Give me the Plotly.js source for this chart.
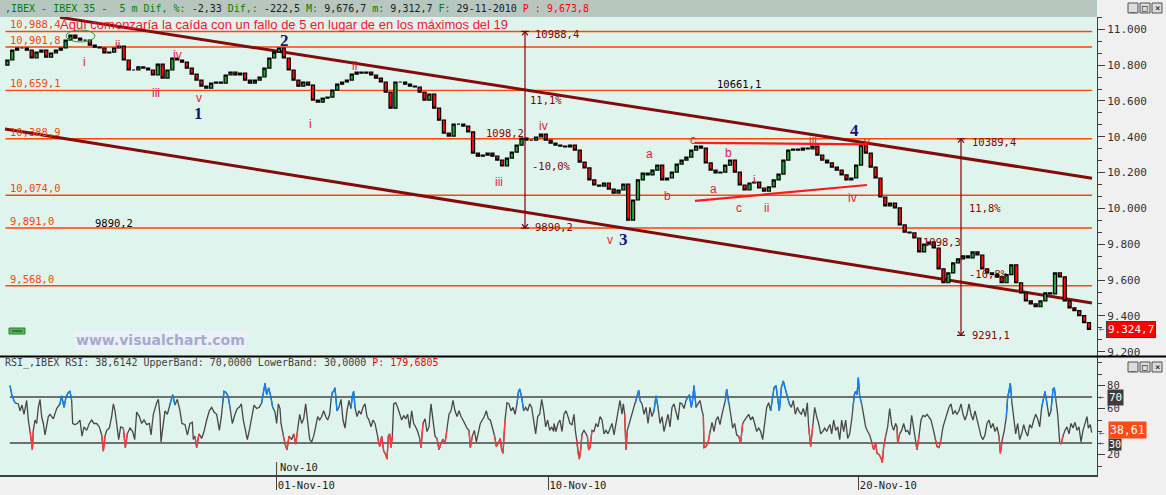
<!DOCTYPE html>
<html><head><meta charset="utf-8">
<script src="https://cdn.plot.ly/plotly-3.0.1.min.js"></script>
<style>html,body{margin:0;padding:0;background:#f0f0f0;overflow:hidden}#chart{width:1166px;height:495px}</style>
</head><body><div id="chart"></div>
<script>
// ================= DATA =================
// time unit: 116.4 units per trading session; 8 bars per session
const SESSION = 116.4;
const BARS_PER_SESSION = 8;
const firstOpen = 10800;
// IBEX 35 closes, one row per session (21-Oct-10 .. 29-Nov-10)
const closes = [
  10829,10884,10896,10896,10884,10840,10873,10884,
  10845,10868,10884,10896,10940,10968,10951,10940,
  10940,10912,10901,10896,10868,10873,10896,10906,
  10829,10773,10773,10790,10784,10773,10745,10806,
  10728,10773,10840,10829,10817,10784,10750,10717,
  10683,10672,10700,10706,10700,10745,10762,10745,
  10756,10717,10700,10717,10734,10784,10840,10873,
  10896,10840,10773,10717,10683,10706,10689,10605,
  10594,10616,10622,10661,10694,10706,10717,10750,
  10762,10756,10762,10745,10728,10706,10650,10560,
  10706,10706,10694,10683,10678,10650,10605,10639,
  10560,10493,10421,10404,10471,10471,10460,10427,
  10309,10292,10298,10309,10292,10270,10237,10281,
  10315,10354,10393,10382,10382,10399,10415,10382,
  10365,10354,10348,10343,10354,10326,10259,10226,
  10159,10131,10125,10142,10108,10086,10103,10136,
  9935,10047,10159,10198,10187,10214,10242,10159,
  10170,10203,10248,10270,10287,10326,10348,10337,
  10254,10214,10198,10203,10242,10270,10203,10131,
  10103,10142,10147,10114,10097,10120,10159,10192,
  10270,10326,10332,10326,10337,10332,10348,10298,
  10270,10254,10231,10214,10187,10159,10170,10242,
  10354,10309,10231,10170,10064,10014,10030,10003,
  9908,9868,9863,9835,9757,9801,9812,9779,
  9663,9585,9640,9696,9718,9735,9724,9757,
  9740,9663,9640,9630,9618,9585,9630,9685,
  9585,9529,9484,9467,9451,9484,9529,9523,
  9640,9618,9484,9445,9429,9401,9362,9325
];

// RSI (time, value) in four stretches
const rsiTimeA = [15,21,30,40,45,51,57,65,70,75,80,82,85,90,95,100,105,110,115,120,125,130,135,145,155,165,170,177,183,190,195,200,203,210,217,225,231,237,245,253,260,267,275,283,290,295,300,305,313,320,325,330,335,341,347,355,361,367,375,383,389,395,403,410,417,425,433,438,445,450,455,460,465,468,473,480,487,495,503,510,517,525,531,540,547,555,562,565,570,575,582,590,597,605,613,620,627,635,643,649,653,657,663,669,675,682,690,697,703,709,715,721,727,733,741,747,755,763,770,775,780,785,791,797,803,810,815,820,825];
const rsiValueA = [80,71,65,64,58,63,55,67,50,41,30,24,41,50,47,61,68,53,47,37,44,53,55,51,60,64,71,61,70,74,75,67,47,46,47,50,36,44,41,47,50,47,47,44,37,23,36,41,43,53,64,58,47,33,44,43,26,38,43,40,33,57,53,47,50,46,47,37,55,61,65,68,54,31,44,58,55,64,72,63,68,58,47,46,37,47,48,33,36,26,38,34,40,50,58,61,57,55,41,53,65,75,74,71,61,47,55,60,61,64,50,40,33,41,53,63,60,61,65,75,82,72,78,71,61,57,47,64,60];
const rsiTimeB = [828,834,840,846,852,860,866,872,878,884,890,896,902,908,914,920,926,932,938,944,950,956,962,968,974,978,982,986,990,996,1002,1008,1014,1020,1026,1032,1038,1042,1046,1050,1056,1062,1068,1074,1080,1086,1092,1098,1104,1110,1114,1118,1124,1130,1136,1142,1146,1150,1154,1158,1162,1166,1172,1178,1184,1190,1196,1202,1208,1214,1220,1226,1232,1238,1244,1248,1254,1260,1266,1272,1278,1284,1290,1296,1302,1308,1314,1320,1326,1332,1338,1344,1350,1356,1362,1368,1374,1380,1386,1392,1396,1402,1408,1414,1420,1426,1432,1438,1444,1450,1456,1462,1468,1474,1480,1486,1490,1494,1500,1506,1512,1518,1524,1530,1536,1540,1544,1550,1556,1562,1568,1574,1580,1586,1592,1598,1604,1610,1616,1622,1628,1634,1640,1646];
const rsiValueB = [47,37,29,24,36,33,38,29,41,55,47,51,64,47,33,31,36,44,53,50,53,58,53,50,55,67,74,75,78,58,61,68,50,43,58,67,60,71,75,61,53,58,55,61,64,53,50,44,50,47,41,34,27,36,23,20,16,36,38,26,36,64,65,61,55,50,54,51,55,43,58,47,44,40,34,26,47,51,40,44,64,50,36,34,24,30,33,30,41,55,58,67,58,53,58,53,50,46,43,41,26,36,41,31,40,47,50,53,58,51,50,44,37,27,30,34,24,21,50,65,64,58,61,55,64,74,77,70,58,61,58,64,61,50,38,53,55,68,58,44,50,41,44,40];
const rsiTimeC = [1647,1653,1659,1665,1671,1677,1683,1689,1695,1701,1707,1711,1715,1719,1723,1727,1731,1737,1743,1747,1751,1755,1761,1767,1773,1779,1785,1791,1797,1803,1809,1815,1821,1827,1833,1839,1845,1851,1855,1859,1863,1867,1873,1879,1885,1891,1897,1901,1905,1911,1917,1923,1929,1935,1941,1947,1953,1959,1965,1971,1977,1983,1989,1995,2001,2007,2013,2019,2025,2031,2037,2043,2049,2053,2059,2063,2067,2073,2079,2085,2091,2095,2097,2103,2109,2115,2121,2127,2133,2139,2145,2151,2157,2161,2165,2171,2177,2183,2189,2195,2201,2207,2213,2219,2225,2231,2237,2243,2249,2255,2261,2267,2273,2279,2285,2291,2297,2303,2307,2313,2319,2323,2329,2335,2341,2347,2353,2359,2365,2371,2377,2383,2389,2395,2401,2407,2411,2417,2423,2429,2435,2441,2447,2453,2459,2465,2471];
const rsiValueC = [47,40,47,50,40,55,58,53,47,46,55,41,33,21,16,24,38,41,38,36,24,26,41,40,47,44,53,50,38,41,38,43,47,37,47,55,67,55,64,55,24,41,47,53,58,64,70,76,67,64,55,61,47,61,53,58,71,61,47,53,40,47,55,44,61,64,58,50,65,64,60,67,70,72,61,68,80,61,64,67,58,54,26,27,30,41,48,40,50,53,46,55,61,67,77,64,55,43,47,37,36,30,47,50,53,55,50,53,47,40,43,40,33,47,61,65,58,70,78,80,64,58,78,84,77,71,64,61,67,55,61,57,55,60,53,65,44,27,44,61,53,47,38,40,43,40,44];
const rsiTimeD = [2475,2480,2486,2492,2498,2504,2510,2516,2522,2528,2534,2540,2544,2548,2552,2556,2560,2564,2570,2576,2582,2588,2594,2600,2606,2612,2616,2622,2628,2632,2636,2642,2648,2654,2660,2666,2672,2676,2678,2684,2690,2696,2702,2708,2714,2720,2726,2732,2736,2742,2748,2754,2760,2766,2772,2778,2784,2790,2796,2802,2808,2814,2820,2826,2832,2838,2844,2850,2856,2862,2868,2874,2880,2886,2892,2898,2904,2910,2916,2922,2928,2934,2940,2946,2952,2958,2964,2970,2976,2982,2986,2992,2998,3004,3008,3012,3016,3020,3026,3032,3038,3044,3050,3056,3062,3068,3074,3080,3086,3092,3098,3104,3110,3116,3120,3126,3132,3138,3144,3148,3152,3158,3164,3168,3174,3180,3186,3192,3198,3204,3210,3216,3222,3228,3234,3240,3246,3250,3256,3260];
const rsiValueD = [46,38,50,41,44,33,50,40,50,34,38,50,61,72,75,72,87,71,64,55,44,40,37,31,24,30,21,20,17,13,27,36,44,60,46,41,47,44,30,38,41,47,40,41,37,54,44,31,24,36,50,54,53,55,53,50,43,34,27,26,33,44,50,55,61,64,55,58,55,58,64,55,50,55,64,55,50,58,50,41,36,33,37,47,50,43,47,40,44,36,21,33,41,53,70,75,82,67,50,38,47,33,38,46,40,36,46,43,50,55,51,44,61,71,75,64,53,58,77,78,68,55,31,29,36,41,44,38,47,43,48,41,44,31,41,47,53,43,46,39];
const rsiUpper = 70, rsiLower = 30;
const rsiTickVals = [20, 60, 80];

// horizontal price levels
const levels = [10988.4, 10901.8, 10659.1, 10388.9, 10074.0, 9891.0, 9568.0];
const levelText = ['10,988,4','10,901,8','10,659,1','10,388,9','10,074,0','9,891,0','9,568,0'];

// trend channel (time0, price0) -> (time1, price1)
const channelTime0 = [165, 0], channelPrice0 = [11067, 10443];
const channelTime1 = [3261, 3261], channelPrice1 = [10169, 9472];
// red triangle lines
const triTime0 = [2070, 2070], triPrice0 = [10366, 10042];
const triTime1 = [2586, 2586], triPrice1 = [10358, 10131];
// vertical measurements
const measureTime = [1560, 2868], measureTop = [10988.4, 10389.4], measureBottom = [9890.2, 9291.1];
const measureText = ['10988,4','11,1%','1098,2','-10,0%','9890,2','10389,4','11,8%','1098,3','-10,8%','9291,1'];
const measureTextTime = [1584,1569,1437,1575,1584,2895,2886,2748,2886,2895];
const measureTextPrice = [10972,10605,10421,10238,9898,10372,10004,9814,9634,9293];
// black notes
const noteText = ['10661,1','9890,2'], noteTime = [2130, 264], notePrice = [10694, 9919];
// Elliott wave labels
const waveText = ['i','ii','iii','iv','v','i','ii','iii','iv','v','a','b','c','a','b','c','i','ii','iii','iv','v'];
const waveTime = [237,336,453,516,582,915,1047,1482,1614,1815,1932,1986,2064,2124,2169,2202,2247,2283,2424,2541,2586];
const wavePrice = [10817,10912,10644,10857,10618,10471,10795,10148,10460,9824,10304,10070,10382,10108,10309,10002,10159,10002,10371,10058,10371];
const degreeText = ['1','2','3','4'], degreeTime = [579, 837, 1854, 2547], degreePrice = [10530, 10940, 9824, 10437];
// date axis
const dateTickSession = [7, 14, 22];
const dateTickText = ['01-Nov-10', '10-Nov-10', '20-Nov-10'];

// ================= BUILD =================
const W = 1166, H = 495;
const px = v => v / W, py = v => 1 - v / H;
const MONO = 'DejaVu Sans Mono';

const candleTime = closes.map((_, i) => (i + 0.5) * SESSION / BARS_PER_SESSION);
const opens = closes.map((c, i) => i === 0 ? firstOpen : closes[i - 1]);
const highs = closes.map((c, i) => Math.max(c, opens[i]));
const lows = closes.map((c, i) => Math.min(c, opens[i]));

const rsiTime = [].concat(rsiTimeA, rsiTimeB, rsiTimeC, rsiTimeD);
const rsiValue = [].concat(rsiValueA, rsiValueB, rsiValueC, rsiValueD);
const zone = cond => rsiValue.map((v, i) =>
  (cond(v) || (i > 0 && cond(rsiValue[i - 1])) || (i < rsiValue.length - 1 && cond(rsiValue[i + 1]))) ? v : null);

const traces = [
  {type:'candlestick', x:candleTime, open:opens, high:highs, low:lows, close:closes,
   xaxis:'x', yaxis:'y', whiskerwidth:0, hoverinfo:'skip', showlegend:false,
   increasing:{line:{color:'#000000', width:1.2}, fillcolor:'#22a832'},
   decreasing:{line:{color:'#000000', width:1.2}, fillcolor:'#ff0a0a'}},
  {type:'scatter', mode:'lines', x:rsiTime, y:rsiValue, xaxis:'x2', yaxis:'y2',
   line:{color:'#474747', width:1.3}, hoverinfo:'skip', showlegend:false},
  {type:'scatter', mode:'lines', x:rsiTime, y:zone(v => v >= rsiUpper), xaxis:'x2', yaxis:'y2',
   line:{color:'#0a84ff', width:1.3}, connectgaps:false, hoverinfo:'skip', showlegend:false},
  {type:'scatter', mode:'lines', x:rsiTime, y:zone(v => v <= rsiLower), xaxis:'x2', yaxis:'y2',
   line:{color:'#ff3a3a', width:1.3}, connectgaps:false, hoverinfo:'skip', showlegend:false}
];

const shapes = [];
const annotations = [];

// header bar
shapes.push({type:'rect', xref:'paper', yref:'paper', x0:0, x1:px(1097), y0:py(17), y1:1, fillcolor:'#b7c7bf', line:{width:0}, layer:'above'});
// separators
shapes.push({type:'line', xref:'paper', yref:'paper', x0:0, x1:1, y0:py(356.5), y1:py(356.5), line:{color:'#000000', width:2}});
// price levels
levels.forEach((lv, i) => {
  shapes.push({type:'line', xref:'x domain', yref:'y', x0:0.005, x1:0.9955, y0:lv, y1:lv, line:{color:'#ff4500', width:1.4}, layer:'below'});
  annotations.push({xref:'paper', yref:'y', x:px(9), y:lv, xanchor:'left', yanchor:'bottom', text:levelText[i], showarrow:false,
    font:{family:MONO, size:10.5, color:'#ff4500'}, borderpad:0});
});
// channel
channelTime0.forEach((t, i) => shapes.push({type:'line', xref:'x', yref:'y', x0:t, y0:channelPrice0[i], x1:channelTime1[i], y1:channelPrice1[i],
  line:{color:'#850b0b', width:3}, layer:'below'}));
// triangle
triTime0.forEach((t, i) => shapes.push({type:'line', xref:'x', yref:'y', x0:t, y0:triPrice0[i], x1:triTime1[i], y1:triPrice1[i],
  line:{color:'#ff1a1a', width:2.2}, layer:'above'}));
// measurements
measureTime.forEach((t, i) => {
  shapes.push({type:'line', xref:'x', yref:'y', x0:t, x1:t, y0:measureBottom[i], y1:measureTop[i], line:{color:'#800000', width:1.2}});
  [measureTop[i], measureBottom[i]].forEach(p => shapes.push({type:'line', xref:'x', yref:'y', x0:t - 12, x1:t + 12, y0:p, y1:p, line:{color:'#800000', width:1.2}}));
  shapes.push({type:'path', xref:'x', yref:'y', path:`M ${t-9} ${measureTop[i]-22} L ${t} ${measureTop[i]-2} L ${t+9} ${measureTop[i]-22}`, line:{color:'#800000', width:1.2}});
  shapes.push({type:'path', xref:'x', yref:'y', path:`M ${t-9} ${measureBottom[i]+22} L ${t} ${measureBottom[i]+2} L ${t+9} ${measureBottom[i]+22}`, line:{color:'#800000', width:1.2}});
});
measureText.forEach((s, i) => annotations.push({xref:'x', yref:'y', x:measureTextTime[i], y:measureTextPrice[i], xanchor:'left', yanchor:'middle',
  text:s, showarrow:false, font:{family:MONO, size:10.5, color:'#8b0000'}}));
noteText.forEach((s, i) => annotations.push({xref:'x', yref:'y', x:noteTime[i], y:notePrice[i], xanchor:'left', yanchor:'middle',
  text:s, showarrow:false, font:{family:MONO, size:10.5, color:'#000000'}}));
waveText.forEach((s, i) => annotations.push({xref:'x', yref:'y', x:waveTime[i], y:wavePrice[i], xanchor:'center', yanchor:'middle',
  text:s, showarrow:false, font:{family:'Liberation Sans', size:12, color:'#f0163c'}, borderpad:0}));
degreeText.forEach((s, i) => annotations.push({xref:'x', yref:'y', x:degreeTime[i], y:degreePrice[i], xanchor:'center', yanchor:'middle',
  text:'<b>' + s + '</b>', showarrow:false, font:{family:'Liberation Serif', size:17, color:'#14147a'}, borderpad:0}));
// RSI bands
[rsiUpper, rsiLower].forEach(b => shapes.push({type:'line', xref:'x2 domain', yref:'y2', x0:0.009, x1:0.9955, y0:b, y1:b, line:{color:'#474747', width:1.6}, layer:'below'}));
// Nov-10 long tick
shapes.push({type:'line', xref:'x2', yref:'paper', x0:dateTickSession[0] * SESSION, x1:dateTickSession[0] * SESSION, y0:py(475), y1:py(462), line:{color:'#404040', width:1}});
annotations.push({xref:'x2', yref:'paper', x:dateTickSession[0] * SESSION + 4, y:py(467), xanchor:'left', yanchor:'middle', text:'Nov-10', showarrow:false,
  font:{family:MONO, size:10.5, color:'#202020'}});

// decorations
shapes.push({type:'circle', xref:'paper', yref:'paper', x0:px(66), x1:px(95), y0:py(42), y1:py(30), line:{color:'#2e9a3e', width:1}});
shapes.push({type:'rect', xref:'paper', yref:'paper', x0:px(9), x1:px(25), y0:py(334), y1:py(328), fillcolor:'#52b552', line:{color:'#2f7f2f', width:1}});
shapes.push({type:'line', xref:'paper', yref:'paper', x0:px(12), x1:px(22), y0:py(331), y1:py(331), line:{color:'#1d3d1d', width:1}});
// window buttons
[3, 362].forEach(top => {
  [1128, 1140, 1152].forEach((l, k) => {
    shapes.push({type:'rect', xref:'paper', yref:'paper', x0:px(l), x1:px(l + 10), y0:py(top + 10), y1:py(top), fillcolor:'#dcdcdc', line:{color:'#505050', width:1}});
    annotations.push({xref:'paper', yref:'paper', x:px(l + 5), y:py(top + 5), text:['_', '□', '×'][k], showarrow:false, font:{family:MONO, size:9, color:'#000'}, xanchor:'center', yanchor:'middle'});
  });
});

annotations.push({xref:'paper', yref:'paper', x:px(3), y:py(8.5), xanchor:'left', yanchor:'middle', showarrow:false,
  font:{family:MONO, size:10, color:'#1a1a1a'},
  text:'<span style="color:#008000">,IBEX - IBEX 35 -  5 m Dif, %:</span> -2,33 <span style="color:#008000">Dif,:</span> -222,5 <span style="color:#008000">M:</span> 9,676,7 <span style="color:#008000">m:</span> 9,312,7 <span style="color:#008000">F:</span> 29-11-2010 <span style="color:#ff0000">P : 9,673,8</span>'});
annotations.push({xref:'paper', yref:'paper', x:px(58), y:py(24.5), xanchor:'left', yanchor:'middle', showarrow:false,
  font:{family:'Liberation Sans', size:13, color:'#ff1030'}, text:'Aquí comenzaría la caída con un fallo de 5 en lugar de en los máximos del 19'});
annotations.push({xref:'paper', yref:'paper', x:px(3), y:py(363), xanchor:'left', yanchor:'middle', showarrow:false,
  font:{family:MONO, size:10, color:'#404040'},
  text:'RSI_,IBEX RSI: 38,6142 UpperBand: 70,0000 LowerBand: 30,0000 <span style="color:#ff0000">P: 179,6805</span>'});
annotations.push({xref:'paper', yref:'paper', x:px(160), y:py(340), xanchor:'center', yanchor:'middle', showarrow:false,
  text:'<b>www.visualchart.com</b>', font:{family:'DejaVu Sans', size:14, color:'#a3abd2'}, bgcolor:'#edf1f6', borderpad:1});
// right side value tags
annotations.push({xref:'paper', yref:'y', x:px(1131), y:closes[closes.length - 1], xanchor:'center', yanchor:'middle', showarrow:false,
  text:'9.324,7', font:{family:MONO, size:11, color:'#ffffff'}, bgcolor:'#ff0000', bordercolor:'#404040', borderwidth:1, borderpad:1});
annotations.push({xref:'paper', yref:'y2', x:px(1115), y:rsiUpper - 0.5, xanchor:'center', yanchor:'middle', showarrow:false,
  text:'70', font:{family:MONO, size:11, color:'#ffffff'}, bgcolor:'#3c3c3c', borderpad:1});
annotations.push({xref:'paper', yref:'y2', x:px(1115), y:rsiLower - 1.5, xanchor:'center', yanchor:'middle', showarrow:false,
  text:'30', font:{family:MONO, size:10, color:'#ffffff'}, bgcolor:'#3c3c3c', borderpad:0});
annotations.push({xref:'paper', yref:'y2', x:px(1127), y:rsiValue[rsiValue.length - 1] + 2.5, xanchor:'center', yanchor:'middle', showarrow:false,
  text:'38,61', font:{family:MONO, size:11.5, color:'#ffffff'}, bgcolor:'#ff4a14', borderpad:1});
[['y', closes[closes.length - 1]], ['y2', rsiUpper], ['y2', rsiLower], ['y2', rsiValue[rsiValue.length - 1]]].forEach(([ax, v]) =>
  annotations.push({xref:'paper', yref:ax, x:px(1102), y:v, xanchor:'center', yanchor:'middle', showarrow:false, text:'←',
    font:{family:MONO, size:9, color:'#606060'}}));

const xRange = [-15, 3276];
const layout = {
  width:W, height:H, margin:{l:0, r:0, t:0, b:0, pad:0},
  paper_bgcolor:'#f0f0f0', plot_bgcolor:'#e0f4ee', separators:',.', showlegend:false, boxgap:0.08,
  xaxis:{domain:[0, px(1097)], range:xRange, anchor:'y', showticklabels:false, ticks:'', showgrid:false, zeroline:false,
    rangeslider:{visible:false}, fixedrange:true},
  yaxis:{domain:[py(356), py(17)], range:[9176, 11069], anchor:'x', side:'right', showgrid:false, zeroline:false,
    showline:true, linecolor:'#404040', linewidth:1, ticks:'outside', ticklen:7, tickcolor:'#404040',
    tick0:0, dtick:200, tickformat:',d', tickfont:{family:MONO, size:11, color:'#303030'},
    minor:{dtick:200 / 3, tick0:0, ticks:'outside', ticklen:4, tickcolor:'#404040'}, fixedrange:true},
  xaxis2:{domain:[0, px(1097)], range:xRange, anchor:'y2', showgrid:false, zeroline:false,
    showline:true, linecolor:'#404040', linewidth:1.5,
    tickvals:dateTickSession.map(s => s * SESSION), ticktext:dateTickText, ticks:'outside', ticklen:13, tickcolor:'#404040',
    ticklabelposition:'outside right', tickfont:{family:MONO, size:10.5, color:'#202020'}, fixedrange:true},
  yaxis2:{domain:[py(475), py(357)], range:[2.2, 104.8], anchor:'x2', side:'right', showgrid:false, zeroline:false,
    showline:true, linecolor:'#404040', linewidth:1, ticks:'outside', ticklen:7, tickcolor:'#404040',
    tickvals:rsiTickVals, tickfont:{family:MONO, size:10.5, color:'#303030'},
    minor:{dtick:10, tick0:0, ticks:'outside', ticklen:4, tickcolor:'#404040'}, fixedrange:true},
  shapes:shapes, annotations:annotations
};
Plotly.newPlot('chart', traces, layout, {displayModeBar:false, staticPlot:true});
</script>
</body></html>
